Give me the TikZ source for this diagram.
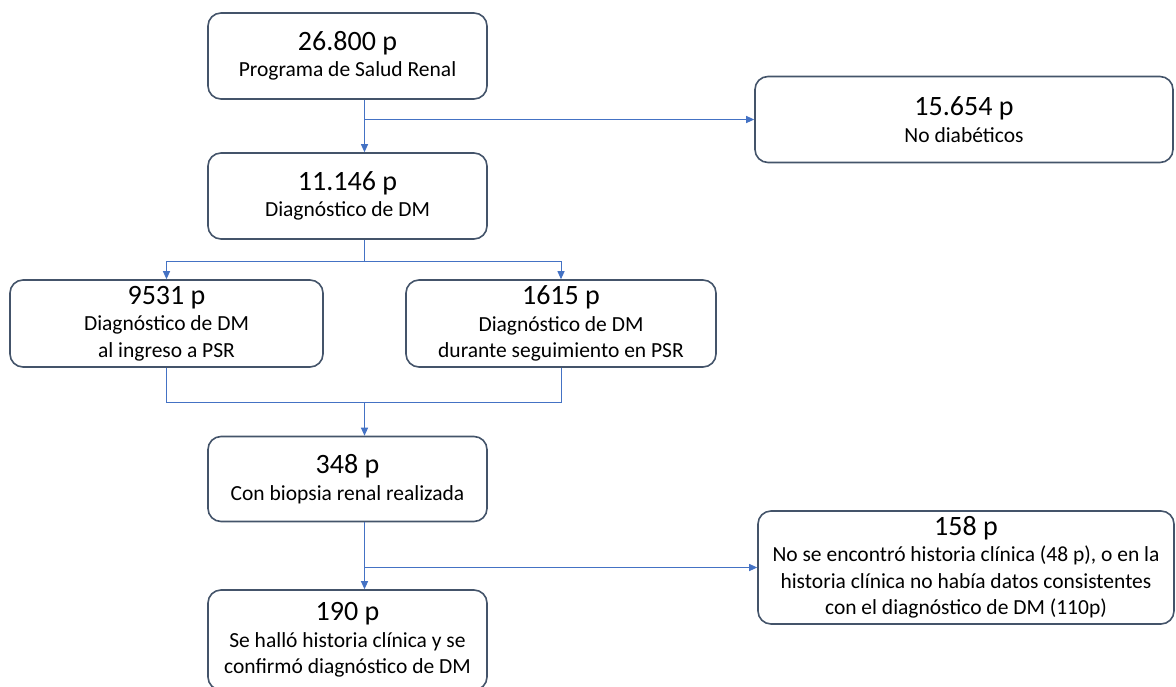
\documentclass[tikz,border=0pt]{standalone}
\usepackage{fontspec}
\setmainfont{Carlito}
\usetikzlibrary{arrows.meta}
\definecolor{boxline}{RGB}{68,84,106}
\definecolor{flowline}{RGB}{68,114,196}
\tikzset{
  box/.style={draw=boxline, line width=1.6pt, rounded corners=13pt, align=center,
    inner sep=0pt, font=\fontsize{21.5}{26.5}\selectfont},
  flow/.style={draw=flowline, line width=1pt, -{Triangle[length=8pt,width=7pt]}},
  link/.style={draw=flowline, line width=1pt}
}
\newcommand{\cnt}[1]{{\fontsize{28}{30}\selectfont #1}}

\begin{document}
\begin{tikzpicture}[x=1pt,y=-1pt]
\useasboundingbox (0,0) rectangle (1176,686);
% boxes
\node[box, minimum width=279pt, minimum height=86pt] (prog) at (347.5,56) {\cnt{26.800 p}\\Programa de Salud Renal};
\node[box, minimum width=418pt, minimum height=86pt] (nodiab) at (964,119.5) {\cnt{15.654 p}\\No diabéticos};
\node[box, minimum width=279pt, minimum height=86pt] (diag) at (347.5,196) {\cnt{11.146 p}\\Diagnóstico de DM};
\node[box, minimum width=313pt, minimum height=87pt] (ingreso) at (166.5,323.5) {\cnt{9531 p}\\Diagnóstico de DM\\al ingreso a PSR};
\node[box, minimum width=310pt, minimum height=87pt] (seguim) at (561,323.5) {\cnt{1615 p}\\Diagnóstico de DM\\durante seguimiento en PSR};
\node[box, minimum width=279pt, minimum height=85pt] (biopsia) at (347.5,479) {\cnt{348 p}\\Con biopsia renal realizada};
\node[box, minimum width=416pt, minimum height=113pt] (sinhc) at (966,567.5) {\cnt{158 p}\\No se encontró historia clínica (48 p), o en la\\historia clínica no había datos consistentes\\con el diagnóstico de DM (110p)};
\node[box, minimum width=279pt, minimum height=100pt] (conhc) at (347.5,640) {\cnt{190 p}\\Se halló historia clínica y se\\confirmó diagnóstico de DM};
% connectors
\coordinate (spine) at (364.5,0);
\draw[flow] (prog.south -| spine) -- (diag.north -| spine);
\draw[flow] (spine |- nodiab.west) -- (nodiab.west);
\coordinate (split) at (364.5,261);
\draw[link] (diag.south -| spine) -- (split);
\draw[flow] (split) -| (ingreso.north);
\draw[flow] (split) -| (seguim.north);
\coordinate (merge) at (364.5,402);
\draw[link] (ingreso.south) |- (merge);
\draw[link] (seguim.south) |- (merge);
\draw[flow] (merge) -- (biopsia.north -| spine);
\draw[flow] (biopsia.south -| spine) -- (conhc.north -| spine);
\draw[flow] (spine |- sinhc.west) -- (sinhc.west);
\end{tikzpicture}
\end{document}
